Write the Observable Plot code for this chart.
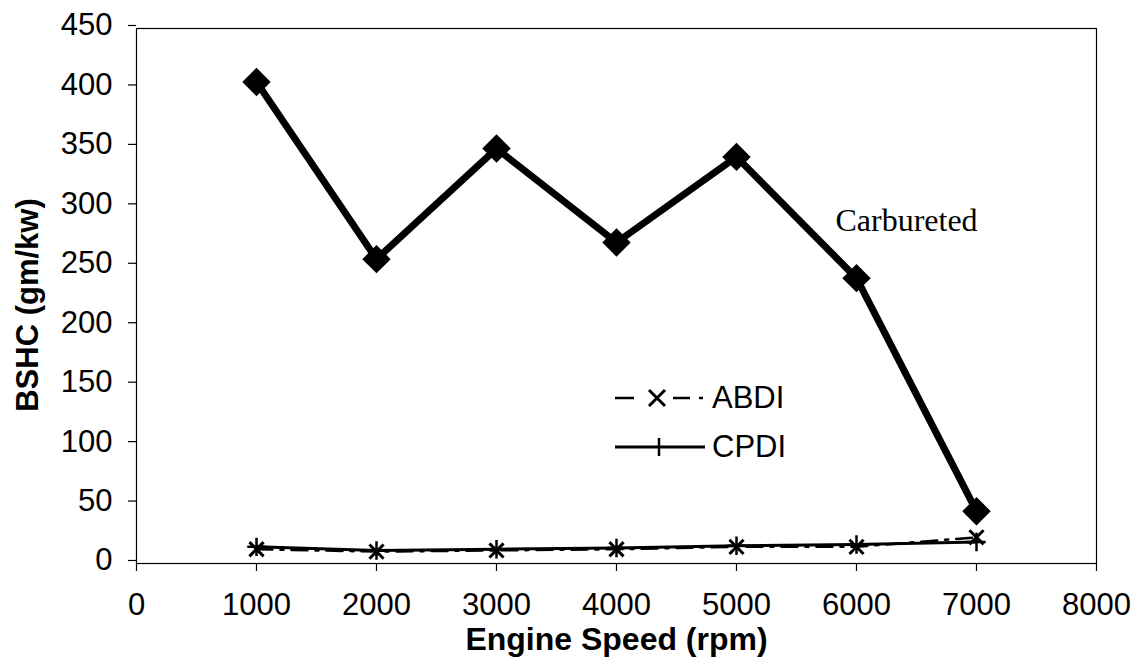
<!DOCTYPE html>
<html>
<head>
<meta charset="utf-8">
<script src="https://cdn.jsdelivr.net/npm/d3@7"></script>
<script src="https://cdn.jsdelivr.net/npm/@observablehq/plot@0.6"></script>
<style>
  html, body { margin: 0; padding: 0; background: #fff; }
  #chart { position: relative; width: 1140px; height: 660px; }
  #legend { position: absolute; left: 612px; top: 373px; font-family: "Liberation Sans", Arial, sans-serif; font-size: 31px; color: #000; }
  #legend .row { display: flex; align-items: center; height: 49.5px; }
  #legend svg { display: block; margin-right: 4px; }
</style>
</head>
<body>
<div id="chart"></div>
<script>
// Brake-specific HC emissions versus engine speed for three fuel systems
const speeds = [1000, 2000, 3000, 4000, 5000, 6000, 7000];
const carbureted = [405, 256, 349, 270, 342, 240, 44];
const abdi = [12, 10, 11, 12, 14, 14, 22];
const cpdi = [14, 11, 12, 13, 15, 16, 18];

const xTicks = [0, 1000, 2000, 3000, 4000, 5000, 6000, 7000, 8000];
const yTicks = [0, 50, 100, 150, 200, 250, 300, 350, 400, 450];

const seriesNames = ["ABDI", "CPDI"];
const carbLabel = "Carbureted";

const rows = (vals) => speeds.map((s, i) => ({speed: s, value: vals[i]}));
const carbRows = rows(carbureted);
const abdiRows = rows(abdi);
const cpdiRows = rows(cpdi);

const font = "'Liberation Sans', Arial, sans-serif";

const chart = Plot.plot({
  width: 1140,
  height: 660,
  marginLeft: 136,
  marginRight: 44,
  marginTop: 28,
  marginBottom: 97,
  style: {fontFamily: font, fontSize: "31px", color: "#000", background: "#fff"},
  x: {domain: [0, 8000], ticks: xTicks, label: null},
  y: {domain: [0, 450], ticks: yTicks, label: null},
  marks: [
    Plot.frame({stroke: "#000", strokeWidth: 1.2}),
    Plot.axisX({ticks: xTicks, tickSize: 8, tickPadding: 21, tickFormat: d => String(d), fontSize: 31, label: null, strokeWidth: 1.2}),
    Plot.axisY({ticks: yTicks, tickSize: 8, tickPadding: 16, dy: -3, tickFormat: d => String(d), fontSize: 31, label: null, strokeWidth: 1.2}),
    // ABDI: dash-dot line with x markers
    Plot.line(abdiRows, {x: "speed", y: "value", stroke: "#000", strokeWidth: 2.5, strokeDasharray: "16,8,3,8"}),
    Plot.dot(abdiRows, {x: "speed", y: "value", symbol: "times", r: 6.5, stroke: "#000", strokeWidth: 3}),
    // CPDI: solid line with + markers
    Plot.line(cpdiRows, {x: "speed", y: "value", stroke: "#000", strokeWidth: 3}),
    Plot.dot(cpdiRows, {x: "speed", y: "value", symbol: "plus", r: 6, stroke: "#000", strokeWidth: 2.5}),
    // Carbureted: heavy line with filled diamonds
    Plot.line(carbRows, {x: "speed", y: "value", stroke: "#000", strokeWidth: 7}),
    Plot.dot(carbRows, {x: "speed", y: "value", symbol: "diamond2", r: 12.8, fill: "#000", stroke: "none"}),
    Plot.text([carbRows[5]], {x: "speed", y: "value", text: () => carbLabel, dx: 50, dy: -57,
      fontFamily: "'Liberation Serif', 'Times New Roman', serif", fontSize: 32, fill: "#000"}),
    // axis titles
    Plot.text(["Engine Speed (rpm)"], {frameAnchor: "bottom", dy: 86, text: d => d,
      fontWeight: "bold", fontSize: 32, fill: "#000"}),
    Plot.text(["BSHC (gm/kw)"], {frameAnchor: "left", dx: -108, dy: 9, rotate: -90, textAnchor: "middle", text: d => d,
      fontWeight: "bold", fontSize: 31, fill: "#000"})
  ]
});

const host = document.getElementById("chart");
host.appendChild(chart);

// Legend for the two direct-injection series
const legend = document.createElement("div");
legend.id = "legend";
const swatch = (name) => {
  const w = 96, h = 30, cy = h / 2;
  const ns = "http://www.w3.org/2000/svg";
  const svg = document.createElementNS(ns, "svg");
  svg.setAttribute("width", w);
  svg.setAttribute("height", h);
  const mk = (tag, attrs) => {
    const el = document.createElementNS(ns, tag);
    for (const k in attrs) el.setAttribute(k, attrs[k]);
    svg.appendChild(el);
    return el;
  };
  if (name === "ABDI") {
    const mx = 45;
    const seg = (a, b) => mk("line", {x1: a, y1: cy, x2: b, y2: cy, stroke: "#000", "stroke-width": 2.5});
    seg(3, 22); seg(61, 78); seg(87, 91);
    mk("path", {d: `M${mx-8},${cy-8}L${mx+8},${cy+8}M${mx-8},${cy+8}L${mx+8},${cy-8}`, stroke: "#000", "stroke-width": 3, fill: "none"});
  } else {
    const mx = 47;
    mk("line", {x1: 3, y1: cy, x2: 93, y2: cy, stroke: "#000", "stroke-width": 3});
    mk("path", {d: `M${mx},${cy-9}L${mx},${cy+9}`, stroke: "#000", "stroke-width": 2.5, fill: "none"});
  }
  return svg;
};
for (const name of seriesNames) {
  const row = document.createElement("div");
  row.className = "row";
  row.appendChild(swatch(name));
  const label = document.createElement("span");
  label.textContent = name;
  row.appendChild(label);
  legend.appendChild(row);
}
host.appendChild(legend);
</script>
</body>
</html>
